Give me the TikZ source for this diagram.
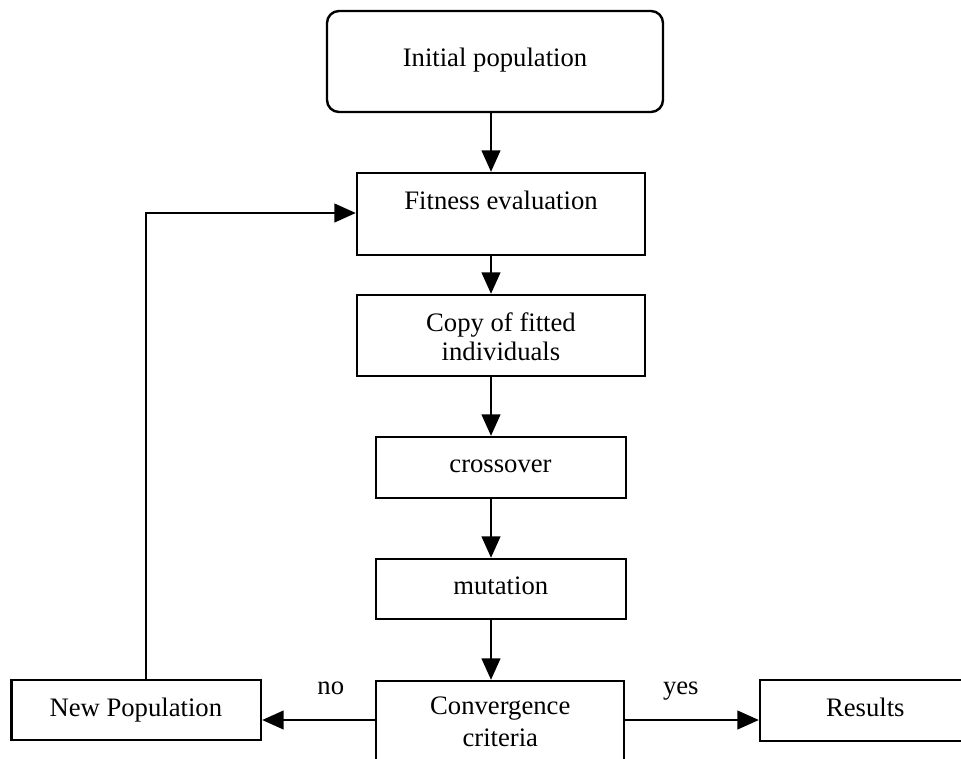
\documentclass[tikz,border=0pt]{standalone}
\usepackage{fontspec}
\setmainfont{Liberation Serif}
\usetikzlibrary{arrows.meta}
\begin{document}
\begin{tikzpicture}[x=0.75pt,y=-0.75pt,
  box/.style={draw,line width=1.8pt,inner sep=0pt,rectangle},
  lbl/.style={anchor=base,inner sep=0pt,font=\fontsize{20}{24}\selectfont},
  arr/.style={line width=1.4pt,-{Triangle[length=16pt,width=14pt]}},
  ln/.style={line width=1.4pt}]
\useasboundingbox (0,0) rectangle (961,758);
\clip (0,0) rectangle (961,758);
\fill[white] (0,0) rectangle (961,758);
% boxes
\node[box,rounded corners=9pt,minimum width=252pt,minimum height=75.75pt] (init) at (495,61.5) {};
\node[box,minimum width=216pt,minimum height=61.5pt] (fit) at (501,214) {};
\node[box,minimum width=216pt,minimum height=60.75pt] (copy) at (501,335.5) {};
\node[box,minimum width=187.5pt,minimum height=45.75pt] (cross) at (501,467.5) {};
\node[box,minimum width=187.5pt,minimum height=45pt] (mut) at (501,589) {};
\node[box,minimum width=186pt,minimum height=89.25pt] (conv) at (500,740.5) {};
\node[box,minimum width=187pt,minimum height=45pt] (newpop) at (136.35,710) {};
\node[box,minimum width=162pt,minimum height=45.75pt] (res) at (868,710.5) {};
% texts
\node[lbl] (tinit) at (495,66) {Initial population};
\node[lbl] (tfit) at (501,209.3) {Fitness evaluation};
\node[lbl] (tcopy1) at (501,331) {Copy of fitted};
\node[lbl] (tcopy2) at (501,360) {individuals};
\node[lbl] (tcross) at (500.5,472.7) {crossover};
\node[lbl] (tmut) at (500.8,594.3) {mutation};
\node[lbl] (tconv1) at (500.3,714.2) {Convergence};
\node[lbl] (tconv2) at (500.3,746) {criteria};
\node[lbl] (tnew) at (135.8,716.7) {New Population};
\node[lbl] (tres) at (865.3,716.7) {Results};
\node[lbl] (tno) at (330.8,694) {no};
\node[lbl] (tyes) at (680.8,694) {yes};
% connector guides
\coordinate (ax) at (491,0);
\coordinate (lx) at (146,0);
\coordinate (hy) at (0,720);
\coordinate (ly) at (0,213);
% connectors
\draw[arr] (init.south -| ax) -- (fit.north -| ax);
\draw[arr] (fit.south -| ax) -- (copy.north -| ax);
\draw[arr] (copy.south -| ax) -- (cross.north -| ax);
\draw[arr] (cross.south -| ax) -- (mut.north -| ax);
\draw[arr] (mut.south -| ax) -- (conv.north -| ax);
\draw[arr] (conv.west |- hy) -- (newpop.east |- hy);
\draw[arr] (conv.east |- hy) -- (res.west |- hy);
\draw[arr] (newpop.north -| lx) -- (lx |- ly) -- (fit.west |- ly);
\end{tikzpicture}
\end{document}
